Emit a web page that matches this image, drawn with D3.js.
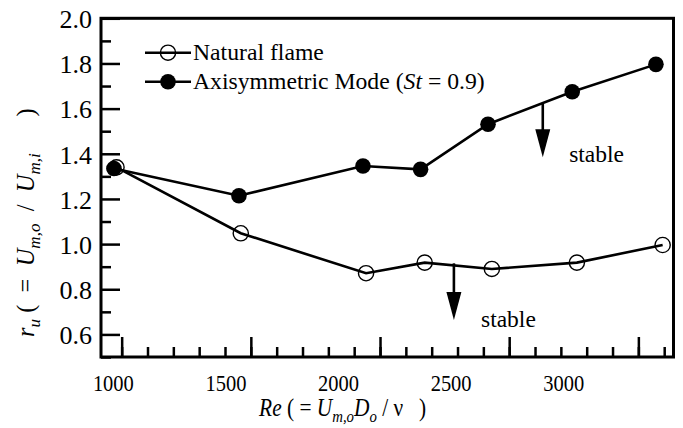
<!DOCTYPE html>
<html>
<head>
<meta charset="utf-8">
<script src="https://d3js.org/d3.v7.min.js"></script>
</head>
<body style="margin:0">
<script>

// ---- data ----
var reNatural = [980, 1461, 1946, 2173, 2433, 2762, 3094];
var ruNatural = [1.340, 1.048, 0.871, 0.918, 0.890, 0.918, 0.996];

var reAxi = [970, 1454, 1934, 2157, 2418, 2744, 3068];
var ruAxi = [1.335, 1.214, 1.346, 1.331, 1.531, 1.675, 1.796];

var xMajor = [1000, 1500, 2000, 2500, 3000];
var xMinor = d3.range(1000, 3101, 100);
var yMajor = [0.6, 0.8, 1.0, 1.2, 1.4, 1.6, 1.8, 2.0];
var yMinor = [0.5, 0.7, 0.9, 1.1, 1.3, 1.5, 1.7, 1.9];

// "stable" arrows: x, top of shaft, tip (data units)
var arrowRe  = [2630, 2286];
var arrowTop = [1.624, 0.915];
var arrowTip = [1.385, 0.664];
var stableRe = [2732, 2391];
var stableRu = [1.365, 0.634];

var FONT = "Liberation Serif";
var NB = "\u00a0";

// ---- layout ----
var W = 683, H = 428;
var margin = {top: 18.3, right: 9.5, bottom: 71, left: 101},
    width = W - margin.left - margin.right,
    height = H - margin.top - margin.bottom;

var svg = d3.select("body").append("svg")
    .attr("width", W)
    .attr("height", H)
    .style("display", "block")
    .attr("font-family", FONT);

var g = svg.append("g")
    .attr("transform", "translate(" + margin.left + "," + margin.top + ")");

var x = d3.scaleLinear().domain([920, 3136]).range([0, width]);
var y = d3.scaleLinear().domain([0.5, 2.0]).range([height, 0]);

// minor + major ticks, pointing inward
g.append("g")
    .attr("transform", "translate(0," + height + ")")
    .call(d3.axisBottom(x).tickValues(xMinor).tickSize(-10).tickFormat(""))
    .call(function(a) { a.select(".domain").remove(); });
g.append("g")
    .attr("transform", "translate(0," + height + ")")
    .call(d3.axisBottom(x).tickValues(xMajor).tickSize(-20).tickFormat(""))
    .call(function(a) { a.select(".domain").remove(); });

g.append("g")
    .call(d3.axisLeft(y).tickValues(yMinor).tickSize(-10).tickFormat(""))
    .call(function(a) { a.select(".domain").remove(); });
var yAx = g.append("g")
    .call(d3.axisLeft(y).tickValues(yMajor).tickSize(-19).tickPadding(9)
      .tickFormat(d3.format(".1f")))
    .call(function(a) { a.select(".domain").remove(); });
yAx.selectAll("text").attr("font-size", 26).attr("dy", "0.36em");

g.selectAll(".tick line").attr("stroke", "#000").attr("stroke-width", 2.5);

// frame
g.append("rect")
    .attr("width", width).attr("height", height)
    .attr("fill", "none").attr("stroke", "#000").attr("stroke-width", 3);

// x labels + title (this text block is squeezed horizontally in the original)
var xt = svg.append("g")
    .attr("transform", "translate(94.9," + (margin.top + height) + ") scale(0.8716,1)");
var xAx = xt.append("g")
    .call(d3.axisBottom(x).tickValues(xMajor).tickSize(0).tickPadding(17).tickFormat(d3.format("d")))
    .call(function(a) { a.select(".domain").remove(); });
xAx.selectAll("text").attr("font-size", 23.5);

var xTitle = xt.append("text")
    .attr("x", width / 2 - 2).attr("y", 59)
    .attr("text-anchor", "middle")
    .attr("font-size", 24.5);
xTitle.append("tspan").attr("font-style", "italic").text("Re");
xTitle.append("tspan").text(" ( = ");
xTitle.append("tspan").attr("font-style", "italic").text("U");
xTitle.append("tspan").attr("font-style", "italic").attr("font-size", 17).attr("dy", 6).text("m,o");
xTitle.append("tspan").attr("font-style", "italic").attr("dy", -6).text("D");
xTitle.append("tspan").attr("font-style", "italic").attr("font-size", 17).attr("dy", 6).text("o");
xTitle.append("tspan").attr("dy", -6).text(" / \u03bd" + NB + NB + NB + ")");

// y title (reads upward from the bottom)
var yTitle = svg.append("text")
    .attr("transform", "translate(34,337) rotate(-90)")
    .attr("text-anchor", "start")
    .attr("font-size", 24.5);
yTitle.append("tspan").attr("font-style", "italic").text("r");
yTitle.append("tspan").attr("font-style", "italic").attr("font-size", 17).attr("dy", 6).text("u");
yTitle.append("tspan").attr("dy", -6).text(NB + "(" + NB + NB + "=" + NB + NB);
yTitle.append("tspan").attr("font-style", "italic").text("U");
yTitle.append("tspan").attr("font-style", "italic").attr("font-size", 17).attr("dy", 6).text("m,o");
yTitle.append("tspan").attr("dy", -6).text(NB + NB + "/" + NB + NB);
yTitle.append("tspan").attr("font-style", "italic").text("U");
yTitle.append("tspan").attr("font-style", "italic").attr("font-size", 17).attr("dy", 6).text("m,i");
yTitle.append("tspan").attr("dy", -6).text(NB + NB + NB + NB + NB + NB + ")");

// series
var line = d3.line().x(function(d) { return x(d[0]); }).y(function(d) { return y(d[1]); });
var natural = d3.zip(reNatural, ruNatural);
var axi = d3.zip(reAxi, ruAxi);

g.append("path").datum(natural).attr("d", line)
    .attr("fill", "none").attr("stroke", "#000").attr("stroke-width", 2.6);
g.append("path").datum(axi).attr("d", line)
    .attr("fill", "none").attr("stroke", "#000").attr("stroke-width", 2.6);

g.selectAll(".open").data(natural).enter().append("circle")
    .attr("cx", function(d) { return x(d[0]); })
    .attr("cy", function(d) { return y(d[1]); })
    .attr("r", 7.6)
    .attr("fill", "none").attr("stroke", "#000").attr("stroke-width", 1.4);
g.selectAll(".filled").data(axi).enter().append("circle")
    .attr("cx", function(d) { return x(d[0]); })
    .attr("cy", function(d) { return y(d[1]); })
    .attr("r", 7.8)
    .attr("fill", "#000");

// arrows
arrowRe.forEach(function(re, i) {
  var ax = x(re), y0 = y(arrowTop[i]), y1 = y(arrowTip[i]);
  var headLen = 28, half = 7.5;
  g.append("line")
      .attr("x1", ax).attr("x2", ax).attr("y1", y0).attr("y2", y1 - headLen + 2)
      .attr("stroke", "#000").attr("stroke-width", 2.6);
  g.append("path")
      .attr("d", "M" + (ax - half) + "," + (y1 - headLen) + "L" + (ax + half) + "," + (y1 - headLen) +
                 "L" + ax + "," + y1 + "Z")
      .attr("fill", "#000");
  g.append("text")
      .attr("x", x(stableRe[i])).attr("y", y(stableRu[i]))
      .attr("font-size", 23.5)
      .text("stable");
});

// legend
var legendItems = ["Natural flame", "Axisymmetric Mode ("];
var legY = [52.7, 81.7];
var leg = svg.append("g");
legendItems.forEach(function(label, i) {
  var row = leg.append("g").attr("transform", "translate(0," + legY[i] + ")");
  row.append("line").attr("x1", 145).attr("x2", 191).attr("y1", 0).attr("y2", 0)
      .attr("stroke", "#000").attr("stroke-width", 2.6);
  var c = row.append("circle").attr("cx", 168).attr("cy", 0).attr("r", i === 0 ? 7.6 : 7.8);
  if (i === 0) c.attr("fill", "none").attr("stroke", "#000").attr("stroke-width", 1.4);
  else c.attr("fill", "#000");
  var t = row.append("text").attr("x", 193).attr("y", 7).attr("font-size", 23.7);
  t.append("tspan").text(label);
  if (i === 1) {
    t.append("tspan").attr("font-style", "italic").text("St");
    t.append("tspan").text(" = 0.9)");
  }
});

// every text in the serif face, black
svg.selectAll("g").attr("font-family", null);
svg.selectAll("text").attr("font-family", FONT).attr("fill", "#000");

</script>
</body>
</html>
